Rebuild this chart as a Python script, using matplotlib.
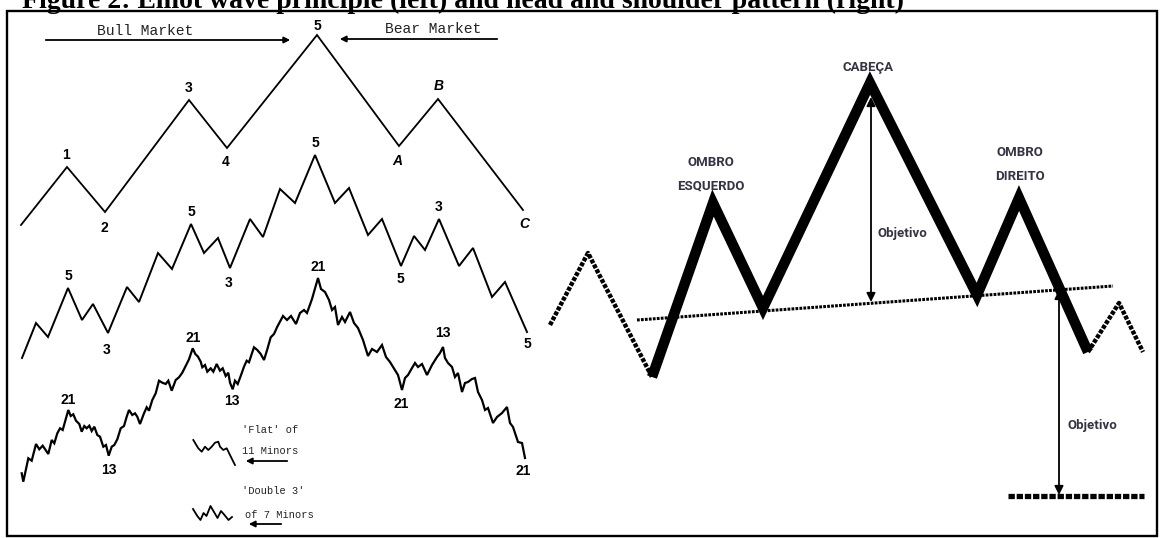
import matplotlib
matplotlib.use("Agg")
import matplotlib.pyplot as plt
from matplotlib.patches import Rectangle

# ---------------- data (pixel-space vertices) ----------------
title = "Figure 2: Elliot wave principle (left) and head and shoulder pattern (right)"

# Elliott wave - top row (primary)
top_x = [21, 67, 105, 189, 227, 317, 399, 438, 523]
top_y = [225, 167, 212, 100, 148, 35, 146, 99, 210]
top_labels = ["1", "2", "3", "4", "5", "A", "B", "C"]
top_lab_x = [66, 104, 189, 226, 317, 397, 439, 524]
top_lab_y = [155, 228, 88, 162, 26, 161, 86, 224]
top_lab_italic = [False, False, False, False, False, True, True, True]

# Elliott wave - middle row
mid_x = [22, 36, 48, 68, 82, 93, 108, 127, 139, 158, 172, 191, 204, 218, 230, 250, 263,
         280, 295, 315, 335, 349, 368, 382, 401, 414, 425, 439, 459, 473, 492, 505, 527]
mid_y = [358, 323, 337, 288, 320, 304, 333, 287, 302, 253, 269, 224, 253, 238, 268, 219, 237,
         189, 203, 155, 203, 188, 235, 219, 266, 236, 250, 219, 266, 248, 297, 282, 332]
mid_labels = ["5", "3", "5", "3", "5", "5", "3", "5"]
mid_lab_x = [68, 107, 191, 229, 315, 400, 439, 527]
mid_lab_y = [276, 350, 212, 283, 143, 279, 207, 344]

# Elliott wave - bottom row
low_x = [21.7, 23.3, 28.3, 31.7, 36, 39.3, 42.7, 48.3, 51.7, 54.3, 57.3, 60, 62.7, 68.3, 70.7,
         73.3, 76, 79.3, 81.7, 84.3, 86.7, 89.3, 91.7, 94.3, 97.3, 100, 103.3, 106, 108.7,
         111.7, 114.3, 117.3, 120.7, 124, 126.7, 129, 132.3, 135, 137.3, 140, 144, 146.7, 149,
         152.3, 155.7, 159, 162.3, 165.7, 168.3, 171.7, 175.7, 179, 182.3, 185.7, 189, 192.7,
         195.3, 198, 200.7, 202.3, 205, 207.3, 210.7, 213.3, 216.7, 220, 222.7, 225.7, 228.3,
         230, 232.7, 235, 237.7, 240.7, 244, 246.7, 249, 251.7, 254, 257.3, 260.7, 264, 267.3,
         270.7, 274, 277.3, 283, 287, 291, 296, 300, 304, 307, 312, 318, 321, 325, 329, 332,
         335, 338, 342, 345, 350, 354, 358, 363, 368, 372, 377, 382, 386, 390, 395, 398, 402,
         405, 408, 412, 415, 418, 422, 427, 432, 437, 440, 443, 445, 448, 452, 455, 458, 462,
         465, 468, 472, 475, 478, 482, 485, 488, 493, 497, 502, 507, 510, 513, 518, 522, 525]
low_y = [473.3, 481.7, 458.3, 460.7, 444, 449.3, 445.7, 454, 440, 443.3, 433.3, 428.3, 430, 410,
         416, 414.3, 420.7, 424, 431.7, 426, 428.3, 425.7, 431, 426.7, 435, 436.7, 446.7, 445,
         455.7, 446.7, 445, 439.3, 428.3, 426, 416.7, 410, 415, 413.3, 416.7, 424, 413.3, 407.3,
         410.7, 400, 393.3, 380.7, 382.7, 384, 380.7, 390.7, 380, 377.3, 372.7, 366, 359.3,
         348.3, 354, 356.7, 361.7, 367.3, 365, 371.7, 368.3, 371.7, 364, 370.7, 368.3, 376,
         372.7, 382.7, 389.3, 380.7, 384, 376, 366.7, 360.7, 362.3, 354, 347.3, 350, 354, 360,
         349.3, 337.3, 334, 326.7, 316, 320, 316, 324, 313, 310, 313, 299, 278, 289, 292, 300,
         310, 307, 325, 317, 322, 312, 323, 328, 340, 356, 349, 352, 345, 357, 362, 370, 375,
         390, 378, 375, 368, 363, 367, 364, 375, 365, 357, 353, 347, 358, 363, 367, 377, 373,
         392, 383, 382, 379, 378, 392, 400, 410, 408, 423, 417, 413, 407, 423, 427, 442, 443,
         458]
low_labels = ["21", "13", "21", "13", "21", "21", "13", "21"]
low_lab_x = [68, 109, 193, 232, 318, 401, 443, 523]
low_lab_y = [400, 470, 338, 401, 267, 404, 333, 471]

# legend mini-waves
flat_x = [193.3, 198.3, 201.7, 205, 208.3, 211.7, 215, 218.3, 220, 223.3, 226.7, 230, 233.3, 235]
flat_y = [440, 448.3, 451.7, 446.7, 450, 446.7, 442.7, 441.7, 446.7, 450, 448.3, 455, 461.7, 465]
dbl_x = [193, 197.3, 200.5, 203.5, 206.5, 210.5, 214, 217.5, 221, 224.5, 228.5, 232]
dbl_y = [509, 516, 520, 513, 516, 506, 512, 518, 511, 515, 520, 517]

# Head & shoulders
hs_pre_x = [550, 588, 652]
hs_pre_y = [325, 253, 377]
hs_x = [652, 713, 763, 870, 977, 1019, 1088]
hs_y = [377, 203, 308, 83, 295, 198, 352]
hs_post_x = [1088, 1119, 1143]
hs_post_y = [352, 303, 352]
neck_x = [637, 1113]
neck_y = [320, 286]
target_x = [1008, 1144]
target_y = [496, 496]

# ---------------- figure ----------------
W, H = 1160, 538
fig = plt.figure(figsize=(W / 100, H / 100), dpi=100)
ax = fig.add_axes([0, 0, 1, 1])
ax.set_xlim(0, W)
ax.set_ylim(H, 0)
ax.axis("off")

# frame
ax.add_patch(Rectangle((7, 10.5), 1150, 525.5, fill=False, lw=1.7, ec="black"))

# title (cut by the top edge, as in the source image)
ax.text(22, 7.5, title, fontsize=20, fontweight="bold", family="Liberation Serif",
        ha="left", va="baseline", clip_on=False)

# Elliott waves
ax.plot(top_x, top_y, color="black", lw=1.3, solid_joinstyle="miter")
ax.plot(mid_x, mid_y, color="black", lw=1.4, solid_joinstyle="miter")
ax.plot(low_x, low_y, color="black", lw=1.6, solid_joinstyle="miter")
ax.plot(flat_x, flat_y, color="black", lw=1.3)
ax.plot(dbl_x, dbl_y, color="black", lw=1.3)

lab_kw = dict(ha="center", va="center", fontsize=10, fontweight="bold",
              family="Liberation Sans", color="black")
for t, x, y, it in zip(top_labels, top_lab_x, top_lab_y, top_lab_italic):
    ax.text(x, y, t, style="italic" if it else "normal", **lab_kw)
for t, x, y in zip(mid_labels, mid_lab_x, mid_lab_y):
    ax.text(x, y, t, **lab_kw)
for t, x, y in zip(low_labels, low_lab_x, low_lab_y):
    ax.text(x, y, t, **lab_kw)

mono = dict(family="Liberation Mono", color="#222222")
ax.text(145, 31, "Bull Market", fontsize=10.5, ha="center", va="center", **mono)
ax.text(433, 29, "Bear Market", fontsize=10.5, ha="center", va="center", **mono)
arr_thin = dict(arrowstyle="-|>", lw=1.3, color="black", mutation_scale=9)
ax.annotate("", xy=(293, 40), xytext=(43, 40), arrowprops=arr_thin)
ax.annotate("", xy=(337, 39), xytext=(500, 39), arrowprops=arr_thin)

ax.text(242, 430, "'Flat' of", fontsize=7.5, ha="left", va="center", **mono)
ax.text(242, 451, "11 Minors", fontsize=7.5, ha="left", va="center", **mono)
ax.text(242, 491, "'Double 3'", fontsize=7.5, ha="left", va="center", **mono)
ax.text(245, 515, "of 7 Minors", fontsize=7.5, ha="left", va="center", **mono)
ax.annotate("", xy=(243, 461), xytext=(290, 461), arrowprops=arr_thin)
ax.annotate("", xy=(246, 524), xytext=(284, 524), arrowprops=arr_thin)

# Head & shoulders
ax.plot(hs_pre_x, hs_pre_y, color="black", lw=3.2, ls=(0, (0.9, 0.35)))
ax.plot(hs_post_x, hs_post_y, color="black", lw=3.2, ls=(0, (0.9, 0.35)))
ax.plot(hs_x, hs_y, color="black", lw=7.5, solid_joinstyle="miter", solid_capstyle="butt")
ax.plot(neck_x, neck_y, color="black", lw=2.2, ls=(0, (0.9, 0.4)))
ax.plot(target_x, target_y, color="black", lw=3.8, ls=(0, (1.2, 0.35)))

arr_dbl = dict(arrowstyle="<|-|>", lw=1.3, color="black", mutation_scale=13,
               shrinkA=0, shrinkB=0)
ax.annotate("", xy=(871, 97), xytext=(871, 302), arrowprops=arr_dbl)
ax.annotate("", xy=(1059, 290), xytext=(1059, 495), arrowprops=arr_dbl)

hs_kw = dict(family="Roboto", fontweight="bold", color="#343444",
             fontsize=9.5, ha="center", va="center")
ax.text(868, 68, "CABEÇA", **hs_kw)
ax.text(711, 162, "OMBRO", **hs_kw)
ax.text(711, 186, "ESQUERDO", **hs_kw)
ax.text(1020, 153, "OMBRO", **hs_kw)
ax.text(1020, 176, "DIREITO", **hs_kw)
ax.text(878, 233, "Objetivo", **{**hs_kw, "ha": "left"})
ax.text(1067, 426, "Objetivo", **{**hs_kw, "ha": "left"})

fig.savefig("out.png", dpi=100)
